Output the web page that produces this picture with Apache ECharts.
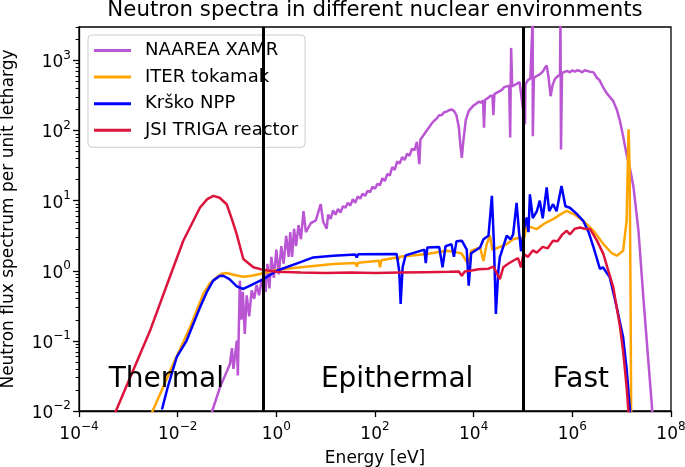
<!DOCTYPE html>
<html><head><meta charset="utf-8">
<script src="https://cdn.jsdelivr.net/npm/echarts@6/dist/echarts.min.js"></script>
<style>html,body{margin:0;padding:0;background:#fff}#c{width:685px;height:467px}</style>
</head><body><div id="c"></div>
<script>
// ---- data (energy in eV, flux per unit lethargy) ----
const seriesNames = ['NAAREA XAMR', 'ITER tokamak', 'Kr\u0161ko NPP', 'JSI TRIGA reactor'];

const naareaE = [0.0479,0.0501,0.0724,0.115,0.126,0.135,0.158,0.166,0.182,0.195,0.209,0.229,0.251,0.282,0.316,0.355,0.398,0.447,0.501,0.603,0.661,0.724,0.794,0.891,1.0,1.12,1.26,1.41,1.58,1.78,1.91,2.09,2.29,2.51,2.82,3.16,3.55,3.98,5.01,6.31,7.94,8.9,10.5,
  11.2,12.6,14.1,15.8,17.8,20.0,22.4,25.1,28.2,31.6,35.5,39.8,44.7,50.1,56.2,63.1,70.8,79.4,89.1,100,112,126,141,158,178,200,224,251,282,316,355,398,447,501,562,631,708,759,794,832,891,
  1000,1120,1260,1410,1580,1780,2000,2240,2510,2820,3160,3550,3980,4470,5010,5370,5750,6170,6920,7940,8910,10000,11200,12600,14100,15500,16200,17000,19100,21400,24000,25100,26300,29500,33100,37200,41700,46800,52500,55000,56200,57500,60300,67600,75900,85100,93300,
  110000,112000,126000,141000,157000,158000,166000,191000,219000,251000,282000,302000,331000,363000,398000,447000,501000,562000,575000,589000,617000,708000,794000,891000,
  1.0e6,1.12e6,1.26e6,1.43e6,1.58e6,1.78e6,1.95e6,2.24e6,2.69e6,3.16e6,3.55e6,4.27e6,5.01e6,6.76e6,7.94e6,9.27e6,1.07e7,1.26e7,1.48e7,1.74e7,2.19e7,2.75e7,3.31e7,4.07e7,4.47e7];
const naareaFlux = [0.0063,0.01,0.0219,0.0468,0.079,0.04,0.101,0.032,0.72,0.2,0.5,0.126,0.447,0.224,0.525,0.398,0.63,0.447,0.708,0.5,1.26,0.562,1.58,0.794,2.0,0.89,2.24,1.26,3.16,1.58,3.55,1.58,3.98,2.24,4.47,2.82,7.08,3.55,4.79,5.25,8.9,5.0,3.98,
  6.31,5.50,7.24,6.31,7.59,6.76,8.32,7.94,9.33,8.51,10.5,9.33,11.5,10.7,12.6,11.7,13.8,13.2,15.8,14.8,17.4,16.6,20.9,19.1,24.0,22.9,30.2,27.5,36.3,33.9,41.7,38.0,46.8,43.7,55.0,52.5,69.2,72.4,33.1,74.1,79.4,
  89.1,100,112,126,138,148,166,166,182,186,195,200,191,166,112,63.1,40.7,70.8,141,191,209,229,240,257,251,269,110,275,288,309,316,166,331,347,363,380,417,427,437,79.4,398,1510,427,447,468,490,501,
  123,457,525,550,4000,83.2,562,603,631,692,794,851,562,309,447,550,589,631,4000,53.7,661,692,708,676,
  724,692,724,708,676,724,724,692,676,562,525,407,339,263,200,136,83.2,45.7,28.2,15.5,3.72,0.417,0.079,0.0126,0.005];

const iterE = [2.0e-3,3.11e-3,5.0e-3,8.17e-3,0.0126,0.0178,0.0251,0.0331,0.0447,0.0617,0.0794,0.0986,0.141,0.214,0.316,0.545,1.02,3.16,14.3,39.8,42.7,45.7,120,126,135,275,288,316,1120,2820,3980,5620,7760,8910,13500,15800,18200,21400,24000,31600,46800,63100,87100,100000,119000,191000,282000,407000,562000,769000,1.12e6,1.66e6,2.69e6,4.27e6,6.31e6,7.94e6,1.07e7,1.26e7,1.38e7,1.45e7,1.52e7,1.57e7];
const iterFlux = [0.004,0.01,0.0215,0.0472,0.092,0.157,0.288,0.468,0.66,0.805,0.91,0.93,0.87,0.82,0.85,0.92,1.03,1.12,1.25,1.29,1.15,1.30,1.39,1.12,1.41,1.55,1.41,1.58,1.74,1.93,1.86,1.78,1.25,1.93,2.15,1.38,2.34,3.16,2.0,2.14,2.4,2.82,2.99,2.51,4.37,3.93,4.79,5.46,6.31,7.16,6.31,5.16,3.72,2.4,1.78,1.64,1.93,5.16,104,30,0.3,0.003];

const krskoE = [4.8e-3,6.3e-3,9.55e-3,0.0152,0.0209,0.0284,0.0398,0.0525,0.0708,0.0841,0.112,0.158,0.214,0.316,0.545,1.02,3.0,5.6,14.3,26.9,39.8,42.7,45.7,275,309,331,363,417,1000,1070,1150,2000,2340,2690,3550,3980,4470,5750,7240,7940,8910,13500,15800,19950,23400,25700,28200,31600,33900,46800,56200,63100,74100,83200,91200,105000,119000,129000,138000,158000,191000,219000,251000,302000,339000,407000,479000,603000,724000,891000,1.2e6,1.66e6,2.14e6,2.69e6,3.63e6,4.17e6,5.75e6,7.94e6,1.07e7,1.26e7,1.48e7,1.58e7];
const krskoFlux = [0.0105,0.022,0.0586,0.101,0.177,0.302,0.513,0.724,0.84,0.85,0.76,0.60,0.55,0.63,0.76,1.0,1.32,1.55,1.64,1.68,1.70,1.55,1.72,1.74,1.0,0.337,1.12,1.66,2.0,1.29,2.15,2.19,1.12,2.24,2.4,1.58,2.63,2.69,2.0,0.614,1.78,2.15,2.82,3.16,11.7,2.51,0.243,1.0,1.55,3.16,2.82,3.31,9.33,3.55,1.9,3.98,5.75,3.55,12.3,5.62,7.08,10,5.62,15.5,7.08,8.91,7.08,16.2,8.32,7.94,6.6,5.16,3.55,2.15,1.06,1.12,0.805,0.302,0.113,0.04,0.01,0.004];

const trigaE = [4.0e-4,5.6e-4,2.75e-3,6.3e-3,0.013,0.0284,0.0398,0.0528,0.0708,0.0986,0.126,0.157,0.214,0.342,0.545,1,3.16,10,31.6,100,316,1000,3162,5012,5750,6600,8500,12600,20000,25100,33900,39800,50100,63100,79400,91200,102000,126000,158000,190000,251000,316000,407000,501000,631000,769000,891000,1.12e6,1.43e6,1.78e6,2.29e6,3.16e6,4.27e6,5.37e6,6.76e6,9.27e6,1.07e7,1.26e7,1.37e7,1.48e7];
const trigaFlux = [0.0054,0.01,0.139,0.68,2.68,7.98,10.5,11.7,11.0,8.9,5.4,3.33,1.47,1.12,1.03,0.966,0.944,0.933,0.944,0.933,0.944,0.955,0.966,0.977,0.85,0.977,1.0,1.05,1.07,1.15,0.76,1.12,1.26,1.39,1.51,1.12,1.74,1.58,1.95,1.82,2.19,2.09,2.69,2.63,3.31,3.72,3.31,3.98,4.15,3.98,3.93,2.69,1.73,1.0,0.58,0.157,0.071,0.022,0.01,0.004];

const boundaryE = [0.55, 1e5];
const regionNames = ['Thermal', 'Epithermal', 'Fast'];
const regionE = [4e-4, 8, 4e5];
const regionFlux = [0.02, 0.02, 0.02];

const xTicks = [1e-4, 1e-2, 1, 1e2, 1e4, 1e6, 1e8];
const yTicks = [1e-2, 1e-1, 1, 1e1, 1e2, 1e3];
const yMinorTicks = [0.02,0.03,0.04,0.05,0.06,0.07,0.08,0.09,0.2,0.3,0.4,0.5,0.6,0.7,0.8,0.9,2,3,4,5,6,7,8,9,20,30,40,50,60,70,80,90,200,300,400,500,600,700,800,900,2000,3000];

const colors = ['#BA55D3', '#FFA500', '#0000FF', '#DC143C'];
const FF = 'DejaVu Sans';

function pairs(xs, ys) { return xs.map((x, i) => [x, ys[i]]); }
function powLabel(v) {
  const e = Math.round(Math.log10(v));
  return '{b|10}{s|' + (e < 0 ? '\u2212' + (-e) : String(e)) + '}';
}
const rich = {
  b: { fontSize: 17, fontFamily: FF, color: '#000', lineHeight: 22, verticalAlign: 'bottom' },
  s: { fontSize: 12, fontFamily: FF, color: '#000', lineHeight: 16, verticalAlign: 'top' }
};

const chart = echarts.init(document.getElementById('c'), null, { renderer: 'canvas' });
const lineSeries = [
  [naareaE, naareaFlux], [iterE, iterFlux], [krskoE, krskoFlux], [trigaE, trigaFlux]
].map((d, i) => ({
  name: seriesNames[i], type: 'line', data: pairs(d[0], d[1]),
  showSymbol: false, symbol: 'none', smooth: false, clip: true,
  lineStyle: { color: colors[i], width: 2.5 }, itemStyle: { color: colors[i] },
  emphasis: { disabled: true }, z: 2
}));

const option = {
  animation: false,
  backgroundColor: '#fff',
  title: {
    text: 'Neutron spectra in different nuclear environments', left: 375, textAlign: 'center', top: 0, padding: 0,
    textStyle: { fontFamily: FF, fontSize: 21.3, fontWeight: 'normal', color: '#000' }
  },
  grid: {
    left: 79, right: 14, top: 27, bottom: 56, containLabel: false, outerBoundsMode: 'none',
    show: true, borderColor: '#000', borderWidth: 1.3, backgroundColor: 'transparent'
  },
  legend: {
    data: seriesNames, orient: 'vertical', left: 88, top: 35, padding: [6.5, 7, 8, 6], itemGap: 8.6,
    itemWidth: 37, itemHeight: 3, icon: 'rect',
    textStyle: { fontFamily: FF, fontSize: 18, color: '#000', lineHeight: 17, padding: [0, 0, 0, 9] },
    backgroundColor: 'rgba(255,255,255,0.8)', borderColor: '#cccccc', borderWidth: 1, borderRadius: 4
  },
  xAxis: {
    type: 'log', logBase: 10, min: 1e-4, max: 1e8,
    name: 'Energy [eV]', nameLocation: 'middle', nameGap: 39,
    nameTextStyle: { fontFamily: FF, fontSize: 17, color: '#000' },
    axisLine: { show: true, lineStyle: { color: '#000', width: 1.3 } },
    axisTick: { show: true, customValues: xTicks, length: 6, inside: false, lineStyle: { color: '#000', width: 1.3 } },
    axisLabel: { show: true, customValues: xTicks, margin: 10, formatter: powLabel, rich: rich, hideOverlap: false },
    splitLine: { show: false }, minorTick: { show: false }
  },
  yAxis: [{
    type: 'log', logBase: 10, min: 0.01, max: 3000,
    name: 'Neutron flux spectrum per unit lethargy', nameLocation: 'middle', nameGap: 62, nameRotate: 90,
    nameTextStyle: { fontFamily: FF, fontSize: 17, color: '#000' },
    axisLine: { show: true, lineStyle: { color: '#000', width: 1.3 } },
    axisTick: { show: true, customValues: yTicks, length: 6, lineStyle: { color: '#000', width: 1.3 } },
    axisLabel: { show: true, customValues: yTicks, margin: 8, formatter: powLabel, rich: rich },
    splitLine: { show: false }
  }, {
    type: 'log', logBase: 10, min: 0.01, max: 3000, position: 'left',
    axisLine: { show: false },
    axisTick: { show: true, customValues: yMinorTicks, length: 3.4, lineStyle: { color: '#000', width: 1 } },
    axisLabel: { show: false }, splitLine: { show: false }
  }],
  series: lineSeries.concat([
    {
      name: 'boundaries', type: 'line', data: [], silent: true,
      markLine: {
        silent: true, symbol: ['none', 'none'], label: { show: false }, animation: false,
        lineStyle: { color: '#000', width: 3, type: 'solid' },
        emphasis: { disabled: true },
        data: boundaryE.map(v => ({ xAxis: v }))
      }, z: 3
    },
    {
      name: 'regions', type: 'scatter', data: pairs(regionE, regionFlux), symbolSize: 0, silent: true,
      itemStyle: { color: '#000', opacity: 1 },
      label: {
        show: true, position: 'right', distance: 0, offset: [0, -10],
        formatter: p => regionNames[p.dataIndex],
        fontFamily: FF, fontSize: 28, color: '#000', opacity: 1, textBorderWidth: 0
      }, z: 4
    }
  ])
};
chart.setOption(option);
</script>
</body></html>
